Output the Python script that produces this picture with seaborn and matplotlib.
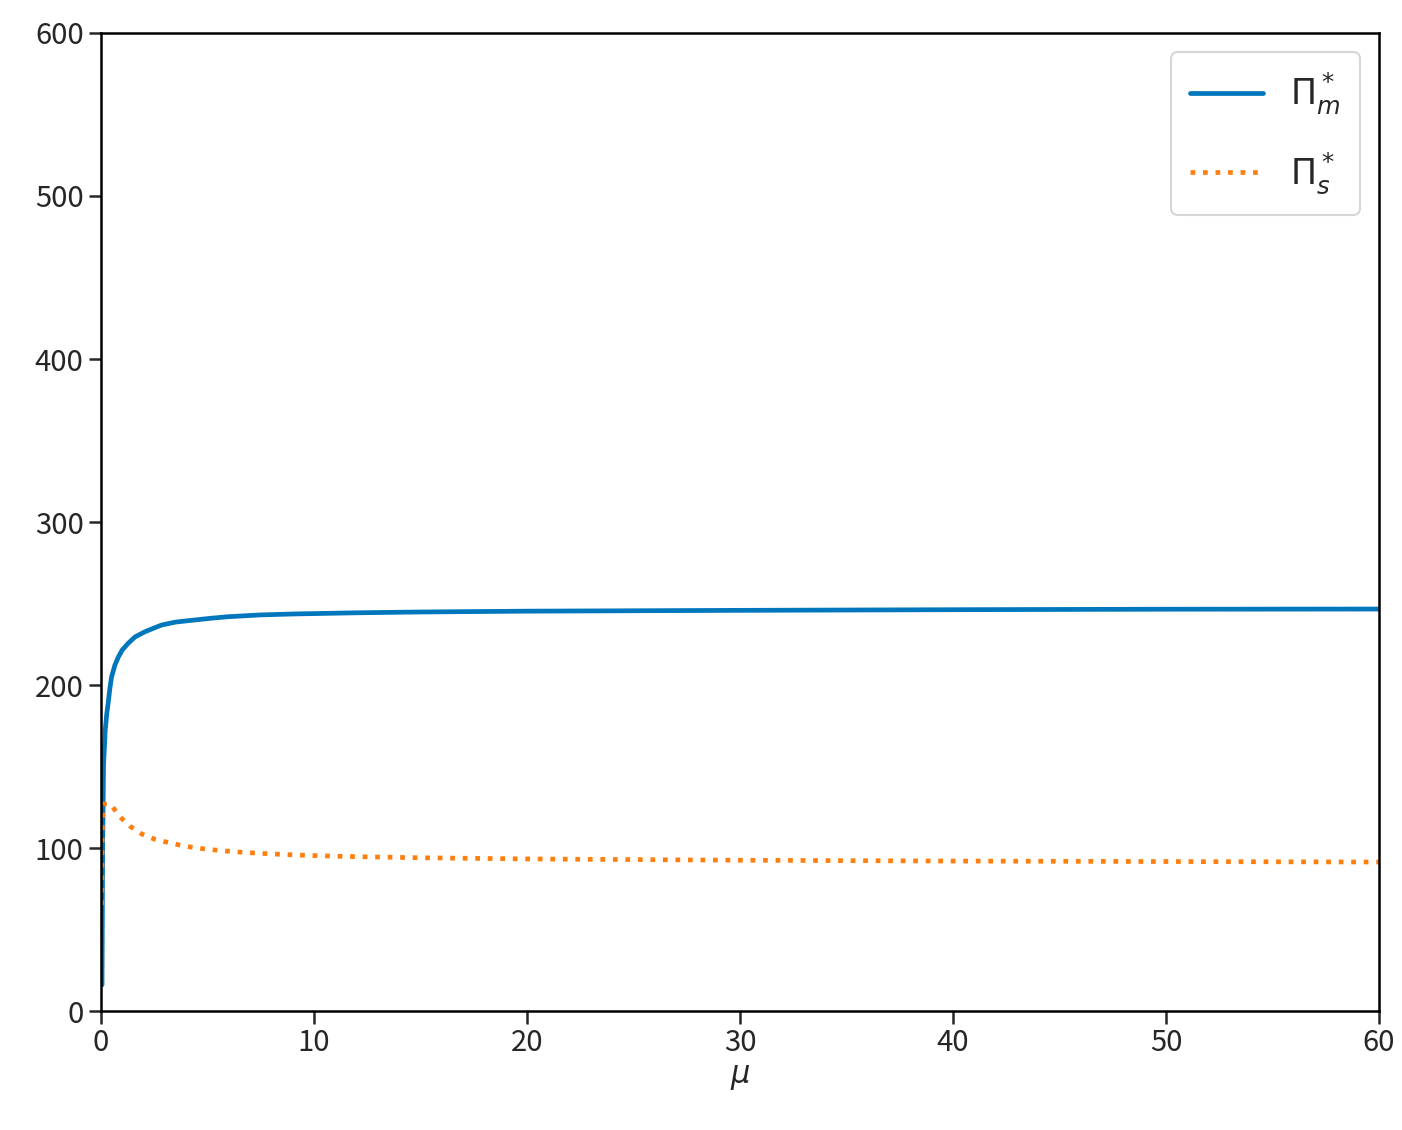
"""
Manufacturer / supplier optimal profit vs. mu, redrawn from the figure.
"""
import pandas as pd
import seaborn as sns
import matplotlib.pyplot as plt

# values
MU_M = [0.05, 0.08, 0.12, 0.2, 0.27, 0.34, 0.42, 0.5, 0.65, 0.81, 1.0, 1.28,
        1.6, 2.07, 2.5, 2.85, 3.5, 4.41, 5.2, 5.97, 7.5, 9.1, 12, 15, 20, 30,
        40, 50, 60]
PI_M = [16, 100, 150, 172, 182, 189, 198, 205, 212, 217, 221.5, 225.6, 229.5,
        232.7, 235, 236.8, 238.6, 239.9, 241, 241.9, 243, 243.6, 244.3, 244.8,
        245.3, 245.8, 246.2, 246.5, 246.6]

MU_S = [0.03, 0.06, 0.1, 0.47, 0.85, 1.35, 1.91, 2.54, 3.19, 3.83, 4.49,
        5.16, 5.82, 6.49, 7.8, 9.17, 11.2, 15, 20, 30, 40, 50, 60]
PI_S = [65, 110, 127, 126.8, 119.6, 113.5, 108.6, 105.3, 103.3, 101.4, 100,
        99, 98.2, 97.5, 96.5, 95.7, 94.9, 94, 93.3, 92.5, 92, 91.7, 91.4]

X_TICKS = [0, 10, 20, 30, 40, 50, 60]
Y_TICKS = [0, 100, 200, 300, 400, 500, 600]

BLUE = '#0077bd'
ORANGE = '#ff7f0e'


def main():
    sns.set_style('ticks')
    plt.rcParams['font.family'] = ['Noto Sans CJK SC', 'DejaVu Sans']
    plt.rcParams['mathtext.fontset'] = 'dejavusans'

    df_m = pd.DataFrame({'mu': MU_M, 'profit': PI_M})
    df_s = pd.DataFrame({'mu': MU_S, 'profit': PI_S})

    fig = plt.figure(figsize=(14.02, 11.3), dpi=100)
    ax = fig.add_axes([0.072, 0.1053, 0.9116, 0.8655])

    sns.lineplot(data=df_m, x='mu', y='profit', ax=ax, color=BLUE, linewidth=3.4,
                 label=r'$\Pi_m^*$', sort=False)
    sns.lineplot(data=df_s, x='mu', y='profit', ax=ax, color=ORANGE, linewidth=3.4,
                 linestyle=':', label=r'$\Pi_s^*$', sort=False)

    ax.set_xlim(0, 60)
    ax.set_ylim(0, 600)
    ax.set_xticks(X_TICKS)
    ax.set_yticks(Y_TICKS)
    ax.tick_params(labelsize=21, length=9, width=1.8, direction='out')
    ax.set_xlabel(r'$\mu$', fontsize=22, labelpad=2)
    ax.set_ylabel('')
    for side in ['top', 'right', 'bottom', 'left']:
        ax.spines[side].set_visible(True)
        ax.spines[side].set_linewidth(1.8)
        ax.spines[side].set_color('black')

    leg = ax.legend(loc='upper right', fontsize=25, handlelength=2.1, frameon=True,
                    fancybox=True, borderpad=0.55, labelspacing=0.95,
                    handletextpad=0.8, borderaxespad=0.55)
    leg.get_frame().set_edgecolor('#cccccc')
    leg.get_frame().set_linewidth(1.5)

    fig.savefig('out.png', dpi=100)


if __name__ == '__main__':
    main()
